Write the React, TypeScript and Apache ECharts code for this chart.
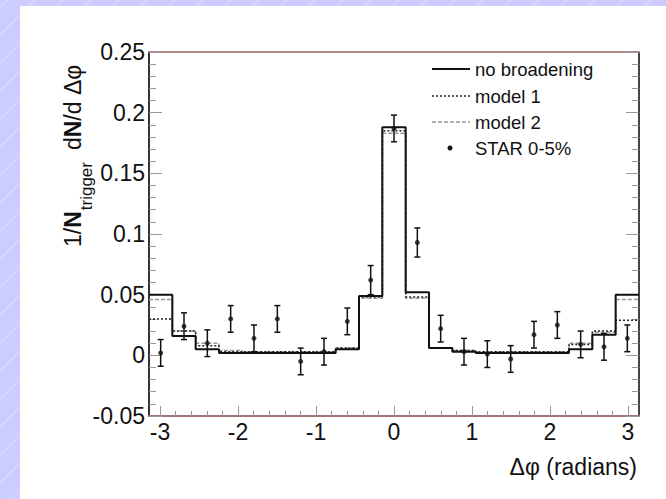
import React, { useEffect, useRef } from "react";
import * as echarts from "echarts";

// Δφ binning: 21 equal bins spanning [-π, π]
const BIN_COUNT = 21;
const BIN_WIDTH = (2 * Math.PI) / BIN_COUNT;

// Per-bin model curves (1/N_trigger dN/dΔφ)
const noBroadening = [
  0.05, 0.016, 0.005, 0.002, 0.002, 0.002, 0.002, 0.002, 0.005, 0.049, 0.188,
  0.052, 0.006, 0.003, 0.002, 0.002, 0.002, 0.002, 0.005, 0.017, 0.05,
];
const model1 = [
  0.03, 0.02, 0.008, 0.003, 0.003, 0.003, 0.003, 0.003, 0.006, 0.048, 0.185,
  0.048, 0.006, 0.004, 0.003, 0.003, 0.003, 0.003, 0.009, 0.02, 0.029,
];
const model2 = [
  0.046, 0.02, 0.01, 0.004, 0.003, 0.003, 0.003, 0.003, 0.006, 0.047, 0.183,
  0.047, 0.006, 0.004, 0.003, 0.003, 0.003, 0.003, 0.01, 0.019, 0.046,
];

// STAR 0-5% measurement, one point per bin centre
const starValues = [
  0.002, 0.024, 0.01, 0.03, 0.014, 0.03, -0.005, 0.003, 0.028, 0.062, 0.187,
  0.093, 0.022, 0.003, 0.001, -0.003, 0.017, 0.025, 0.009, 0.007, 0.014,
];
const starErrors = [
  0.011, 0.011, 0.011, 0.011, 0.011, 0.011, 0.011, 0.011, 0.011, 0.012, 0.011,
  0.012, 0.011, 0.011, 0.011, 0.011, 0.011, 0.011, 0.011, 0.011, 0.011,
];

const xTickLabels = [-3, -2, -1, 0, 1, 2, 3];
const legendNames = ["no broadening", "model 1", "model 2", "STAR 0-5%"];

const FONT = "'Liberation Sans', Arial, Helvetica, sans-serif";

const binLow = (i: number) => -Math.PI + i * BIN_WIDTH;
const binCentre = (i: number) => binLow(i) + BIN_WIDTH / 2;

// histogram outline: a flat segment across every bin
function histogramPath(values: number[]) {
  const pts: number[][] = [];
  values.forEach((v, i) => {
    pts.push([binLow(i), v], [binLow(i) + BIN_WIDTH, v]);
  });
  return pts;
}

const minorXTicks: number[] = [];
for (let k = -15; k <= 15; k++) {
  if (k % 5 !== 0) minorXTicks.push(+(k * 0.2).toFixed(1));
}

function buildOption() {
  const W = 666;
  const H = 499;

  // faint diagonal stripes over the lavender backdrop
  const stripes: any[] = [];
  for (let i = 0; i < 46; i++) {
    const x1 = -520 + i * 28;
    stripes.push({
      type: "line",
      z: -20,
      silent: true,
      shape: { x1, y1: H, x2: x1 + H, y2: 0 },
      style: { stroke: "rgba(255,255,255,0.45)", lineWidth: 1 },
    });
  }

  const legendRowsY = [69, 96, 122, 148];
  const legendGraphics: any[] = [
    {
      type: "line",
      z: 20,
      shape: { x1: 432, y1: legendRowsY[0], x2: 470, y2: legendRowsY[0] },
      style: { stroke: "#111", lineWidth: 2 },
    },
    {
      type: "line",
      z: 20,
      shape: { x1: 432, y1: legendRowsY[1], x2: 470, y2: legendRowsY[1] },
      style: { stroke: "#222", lineWidth: 1.5, lineDash: [2, 2] },
    },
    {
      type: "line",
      z: 20,
      shape: { x1: 432, y1: legendRowsY[2], x2: 470, y2: legendRowsY[2] },
      style: { stroke: "#999", lineWidth: 1.5, lineDash: [4, 2] },
    },
    {
      type: "circle",
      z: 20,
      shape: { cx: 450, cy: legendRowsY[3], r: 2.5 },
      style: { fill: "#111" },
    },
    ...legendNames.map((name, i) => ({
      type: "text",
      z: 20,
      x: 475,
      y: legendRowsY[i],
      style: {
        text: name,
        fontFamily: FONT,
        fontSize: 18.5,
        fill: "#111",
        align: "left",
        verticalAlign: "middle",
      },
    })),
  ];

  const yTitleRich = {
    a: { fontFamily: FONT, fontSize: 23, lineHeight: 26, verticalAlign: "top", fill: "#111" },
    b: {
      fontFamily: FONT,
      fontSize: 23,
      fontWeight: "bold",
      lineHeight: 26,
      verticalAlign: "top",
      fill: "#111",
    },
    s: {
      fontFamily: FONT,
      fontSize: 17,
      lineHeight: 18,
      padding: [17, 0, 0, 1],
      verticalAlign: "top",
      fill: "#111",
    },
    g: {
      fontFamily: FONT,
      fontSize: 23,
      lineHeight: 26,
      padding: [0, 0, 0, 12],
      verticalAlign: "top",
      fill: "#111",
    },
  };

  const axisLineOff = { onZero: false };

  return {
    animation: false,
    backgroundColor: "#ccccff",
    graphic: [
      ...stripes,
      {
        type: "rect",
        z: -10,
        silent: true,
        shape: { x: 20, y: 6, width: W - 20, height: H - 6 },
        style: { fill: "#ffffff" },
      },
      {
        type: "text",
        z: 20,
        x: 61,
        y: 247,
        rotation: Math.PI / 2,
        style: {
          text: "{a|1/}{b|N}{s|trigger}{g|d}{b|N}{a|/d Δφ}",
          rich: yTitleRich,
          align: "left",
          verticalAlign: "top",
        },
      },
      {
        type: "text",
        z: 20,
        x: 637,
        y: 467,
        style: {
          text: "Δφ (radians)",
          fontFamily: FONT,
          fontSize: 23,
          fill: "#111",
          align: "right",
          verticalAlign: "middle",
        },
      },
      ...legendGraphics,
    ],
    grid: { left: 149, top: 52, width: 490, height: 364, containLabel: false },
    xAxis: [
      {
        type: "value",
        position: "bottom",
        min: -Math.PI,
        max: Math.PI,
        axisLine: { show: true, ...axisLineOff, lineStyle: { color: "#a47474", width: 2 } },
        axisTick: {
          show: true,
          inside: true,
          length: 10,
          customValues: xTickLabels,
          lineStyle: { color: "#999", width: 1 },
        },
        axisLabel: {
          show: true,
          customValues: xTickLabels,
          margin: 4,
          fontFamily: FONT,
          fontSize: 23,
          color: "#111",
        },
        splitLine: { show: false },
      },
      {
        type: "value",
        position: "top",
        min: -Math.PI,
        max: Math.PI,
        axisLine: { show: true, ...axisLineOff, lineStyle: { color: "#b08a8a", width: 2 } },
        axisTick: { show: false },
        axisLabel: { show: false },
        splitLine: { show: false },
      },
      {
        type: "value",
        position: "bottom",
        min: -Math.PI,
        max: Math.PI,
        axisLine: { show: false, ...axisLineOff },
        axisTick: {
          show: true,
          inside: true,
          length: 5,
          customValues: minorXTicks,
          lineStyle: { color: "#999", width: 1 },
        },
        axisLabel: { show: false },
        splitLine: { show: false },
      },
    ],
    yAxis: [
      {
        type: "value",
        position: "left",
        min: -0.05,
        max: 0.25,
        interval: 0.05,
        axisLine: { show: true, ...axisLineOff, lineStyle: { color: "#3e2e2e", width: 2 } },
        axisTick: { show: true, inside: true, length: 13, lineStyle: { color: "#999", width: 1 } },
        minorTick: { show: true, splitNumber: 5, length: 7, lineStyle: { color: "#999", width: 1 } },
        axisLabel: {
          margin: 4,
          fontFamily: FONT,
          fontSize: 23,
          color: "#111",
          formatter: (v: number) => String(+v.toFixed(2)),
        },
        splitLine: { show: false },
        minorSplitLine: { show: false },
      },
      {
        type: "value",
        position: "right",
        min: -0.05,
        max: 0.25,
        interval: 0.05,
        axisLine: { show: true, ...axisLineOff, lineStyle: { color: "#444", width: 2 } },
        axisTick: { show: true, inside: true, length: 13, lineStyle: { color: "#999", width: 1 } },
        minorTick: { show: true, splitNumber: 5, length: 7, lineStyle: { color: "#999", width: 1 } },
        axisLabel: { show: false },
        splitLine: { show: false },
      },
    ],
    series: [
      {
        name: "model 2",
        type: "line",
        xAxisIndex: 0,
        yAxisIndex: 0,
        data: histogramPath(model2),
        symbol: "none",
        clip: true,
        silent: true,
        z: 3,
        lineStyle: { color: "#999", width: 1.5, type: [4, 2] },
      },
      {
        name: "model 1",
        type: "line",
        xAxisIndex: 0,
        yAxisIndex: 0,
        data: histogramPath(model1),
        symbol: "none",
        clip: true,
        silent: true,
        z: 3,
        lineStyle: { color: "#222", width: 1.5, type: [2, 2] },
      },
      {
        name: "no broadening",
        type: "line",
        xAxisIndex: 0,
        yAxisIndex: 0,
        data: histogramPath(noBroadening),
        symbol: "none",
        clip: true,
        silent: true,
        z: 4,
        lineStyle: { color: "#111", width: 2 },
      },
      {
        name: "STAR error bars",
        type: "custom",
        xAxisIndex: 0,
        yAxisIndex: 0,
        silent: true,
        z: 5,
        data: starValues.map((v, i) => [binCentre(i), v, starErrors[i]]),
        encode: { x: 0, y: 1 },
        renderItem: (_params: any, api: any) => {
          const x = api.value(0);
          const y = api.value(1);
          const e = api.value(2);
          const top = api.coord([x, y + e]);
          const bot = api.coord([x, y - e]);
          const cap = 3;
          const style = { stroke: "#111", lineWidth: 1.5 };
          return {
            type: "group",
            children: [
              { type: "line", shape: { x1: top[0], y1: top[1], x2: bot[0], y2: bot[1] }, style },
              { type: "line", shape: { x1: top[0] - cap, y1: top[1], x2: top[0] + cap, y2: top[1] }, style },
              { type: "line", shape: { x1: bot[0] - cap, y1: bot[1], x2: bot[0] + cap, y2: bot[1] }, style },
            ],
          };
        },
      },
      {
        name: "STAR 0-5%",
        type: "scatter",
        xAxisIndex: 0,
        yAxisIndex: 0,
        silent: true,
        z: 6,
        symbol: "circle",
        symbolSize: 5,
        itemStyle: { color: "#111" },
        data: starValues.map((v, i) => [binCentre(i), v]),
      },
    ],
  };
}

export default function App() {
  const ref = useRef<HTMLDivElement>(null);
  useEffect(() => {
    if (!ref.current) return;
    const chart = echarts.init(ref.current, undefined, { renderer: "svg" });
    chart.setOption(buildOption() as any);
    return () => chart.dispose();
  }, []);
  return (
    <div
      ref={ref}
      style={{ position: "fixed", left: 0, top: 0, width: 666, height: 499 }}
    />
  );
}
